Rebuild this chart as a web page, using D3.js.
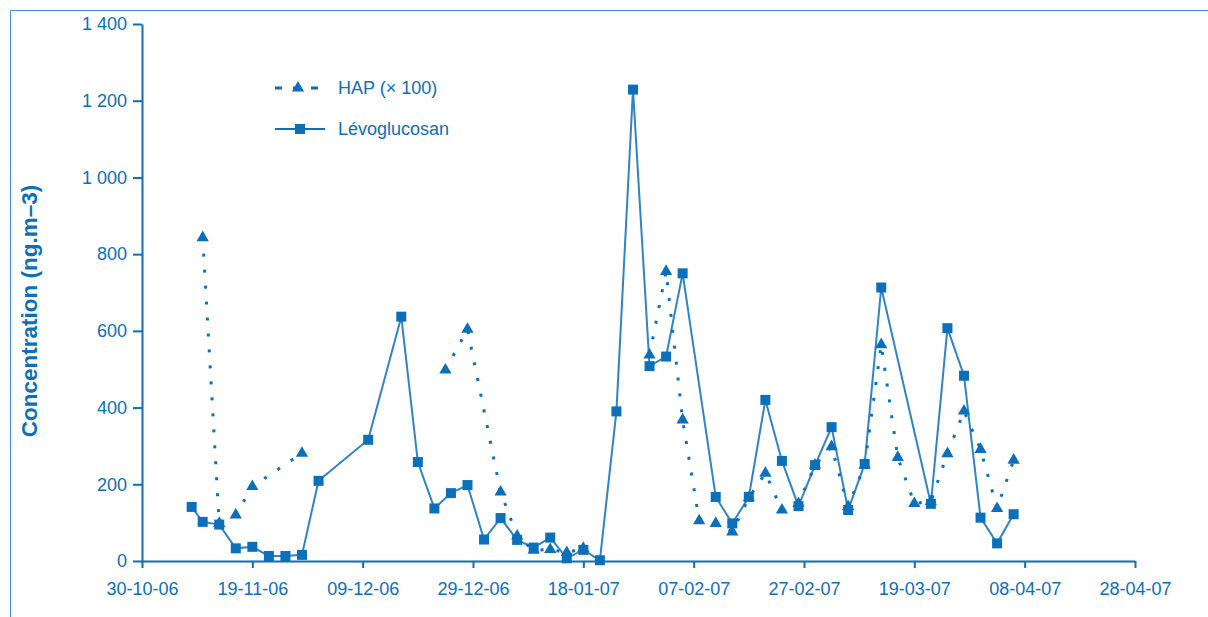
<!DOCTYPE html>
<html>
<head>
<meta charset="utf-8">
<script src="https://cdn.jsdelivr.net/npm/d3@7"></script>
<style>
  html, body { margin: 0; padding: 0; background: #fff; }
  svg { display: block; }
  text { font-family: "Liberation Sans", Arial, Helvetica, sans-serif; fill: #0b6fba; }
</style>
</head>
<body>
<svg id="chart" width="1208" height="617"></svg>
<script>
// Sampling dates and concentrations (ng.m-3)
const levoDates = [
  "2006-11-08","2006-11-10","2006-11-13","2006-11-16","2006-11-19","2006-11-22","2006-11-25","2006-11-28",
  "2006-12-01","2006-12-10","2006-12-16","2006-12-19","2006-12-22","2006-12-25","2006-12-28","2006-12-31",
  "2007-01-03","2007-01-06","2007-01-09","2007-01-12","2007-01-15","2007-01-18","2007-01-21","2007-01-24",
  "2007-01-27","2007-01-30","2007-02-02","2007-02-05","2007-02-11","2007-02-14","2007-02-17","2007-02-20",
  "2007-02-23","2007-02-26","2007-03-01","2007-03-04","2007-03-07","2007-03-10","2007-03-13","2007-03-22",
  "2007-03-25","2007-03-28","2007-03-31","2007-04-03","2007-04-06"
];
const levoValues = [
  141, 102, 95, 33, 37, 13, 13, 16,
  209, 316, 637, 258, 137, 177, 198, 56,
  112, 55, 35, 61, 7, 29, 2, 390,
  1229, 508, 533, 750, 167, 98, 167, 420,
  261, 143, 250, 349, 133, 253, 713, 149,
  607, 483, 113, 46, 122
];

// HAP (x 100); null marks an interruption of the series
const hapDates = [
  "2006-11-10","2006-11-13","2006-11-16","2006-11-19","2006-11-28","2006-12-10",
  "2006-12-24","2006-12-28","2007-01-03","2007-01-06","2007-01-09","2007-01-12","2007-01-15","2007-01-18","2007-01-24",
  "2007-01-30","2007-02-02","2007-02-05","2007-02-08","2007-02-11","2007-02-14","2007-02-17","2007-02-20",
  "2007-02-23","2007-02-26","2007-03-01","2007-03-04","2007-03-07","2007-03-10","2007-03-13","2007-03-16",
  "2007-03-19","2007-03-22","2007-03-25","2007-03-28","2007-03-31","2007-04-03","2007-04-06"
];
const hapValues = [
  843, 98, 120, 194, 281, null,
  498, 604, 180, 65, 28, 30, 22, 33, null,
  537, 755, 368, 105, 98, 76, 165, 229,
  133, 150, 250, 298, 142, 250, 564, 270,
  150, 155, 280, 391, 291, 137, 263
];

const xTickDates = ["2006-10-30","2006-11-19","2006-12-09","2006-12-29","2007-01-18",
                    "2007-02-07","2007-02-27","2007-03-19","2007-04-08","2007-04-28"];
const yTicks = [0, 200, 400, 600, 800, 1000, 1200, 1400];

const seriesNames = ["HAP (\u00d7 100)", "L\u00e9voglucosan"];
const yTitle = "Concentration (ng.m\u20133)";

const BLUE = "#0b6fba";
const parse = d3.utcParse("%Y-%m-%d");

const svg = d3.select("#chart");
const margin = { left: 142, top: 24, right: 73, bottom: 56 };
const W = 1208, H = 617;

// outer frame
svg.append("path")
  .attr("d", `M10.5,${H} V10.5 H${W}`)
  .attr("fill", "none").attr("stroke", "#3d8fd0").attr("stroke-width", 1);

const x = d3.scaleUtc()
  .domain([parse(xTickDates[0]), parse(xTickDates[xTickDates.length - 1])])
  .range([margin.left, W - margin.right]);
const y = d3.scaleLinear().domain([0, 1400]).range([H - margin.bottom, margin.top]);

const fmtY = v => d3.format(",")(v).replace(/,/g, " ");

// axes
const xAxis = svg.append("g")
  .attr("transform", `translate(0,${y(0)})`)
  .call(d3.axisBottom(x).tickValues(xTickDates.map(parse))
        .tickFormat(d3.utcFormat("%d-%m-%y")).tickSize(7).tickSizeOuter(0).tickPadding(14));
const yAxis = svg.append("g")
  .attr("transform", `translate(${x.range()[0]},0)`)
  .call(d3.axisLeft(y).tickValues(yTicks).tickFormat(fmtY).tickSize(9).tickSizeOuter(0).tickPadding(6));

[xAxis, yAxis].forEach(g => {
  g.select(".domain").attr("stroke", BLUE).attr("stroke-width", 2);
  g.selectAll(".tick line").attr("stroke", BLUE).attr("stroke-width", 2);
  g.selectAll(".tick text").attr("fill", BLUE)
    .style("font-family", '"Liberation Sans", Arial, sans-serif').style("font-size", "18px");
});

// y title
svg.append("text")
  .attr("transform", `translate(37,311) rotate(-90)`)
  .attr("text-anchor", "middle")
  .style("font-size", "22.5px").style("font-weight", "bold")
  .text(yTitle);

// data
const levo = levoDates.map((d, i) => ({ date: parse(d), v: levoValues[i] }));
const hap = hapDates.map((d, i) => ({ date: parse(d), v: hapValues[i] }));

const line = d3.line().defined(d => d.v != null).x(d => x(d.date)).y(d => y(d.v));

svg.append("path").datum(levo)
  .attr("d", line).attr("fill", "none").attr("stroke", BLUE).attr("stroke-width", 2)
  .attr("stroke-opacity", 0.85);

svg.append("path").datum(hap)
  .attr("d", line).attr("fill", "none").attr("stroke", BLUE).attr("stroke-width", 3)
  .attr("stroke-dasharray", "3,13");

const sq = d3.symbol().type(d3.symbolSquare).size(100);
const tri = d3.symbol().type(d3.symbolTriangle).size(65);

svg.append("g").selectAll("path").data(hap.filter(d => d.v != null)).join("path")
  .attr("d", tri).attr("fill", BLUE)
  .attr("transform", d => `translate(${x(d.date)},${y(d.v)})`);

svg.append("g").selectAll("path").data(levo).join("path")
  .attr("d", sq).attr("fill", BLUE)
  .attr("transform", d => `translate(${x(d.date)},${y(d.v)})`);

// legend
const lg = svg.append("g");
lg.append("line").attr("x1", 275).attr("x2", 320).attr("y1", 88).attr("y2", 88)
  .attr("stroke", BLUE).attr("stroke-width", 3).attr("stroke-dasharray", "7,11");
lg.append("path").attr("d", tri).attr("fill", BLUE).attr("transform", "translate(298,88)");
lg.append("text").attr("x", 338).attr("y", 88).attr("dy", "0.35em")
  .style("font-size", "18px").text(seriesNames[0]);

lg.append("line").attr("x1", 275).attr("x2", 325).attr("y1", 129).attr("y2", 129)
  .attr("stroke", BLUE).attr("stroke-width", 2);
lg.append("path").attr("d", sq).attr("fill", BLUE).attr("transform", "translate(300,129)");
lg.append("text").attr("x", 338).attr("y", 129).attr("dy", "0.35em")
  .style("font-size", "18px").text(seriesNames[1]);
</script>
</body>
</html>
